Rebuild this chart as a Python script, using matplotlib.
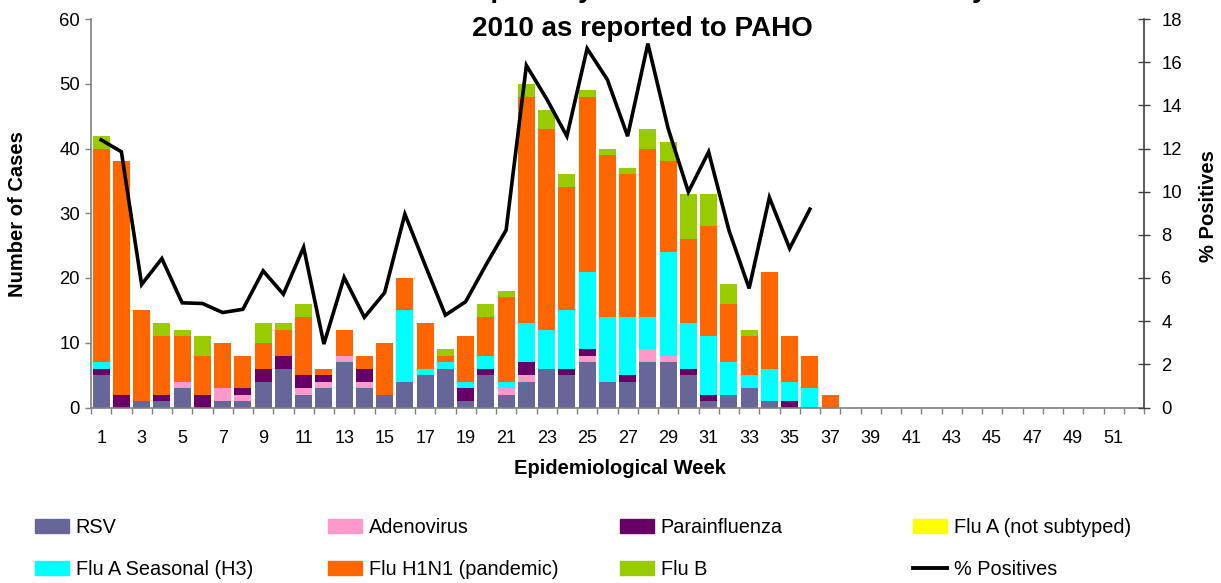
import numpy as np
import matplotlib
matplotlib.use("Agg")
import matplotlib.pyplot as plt
from matplotlib.patches import Patch
from matplotlib.lines import Line2D

plt.rcParams['font.family'] = ['Liberation Sans', 'DejaVu Sans']

weeks = list(range(1, 53))
tick_weeks = list(range(1, 53, 2))

def pad(vals):
    return list(vals) + [0] * (52 - len(vals))

rsv = pad([5, 0, 1, 1, 3, 0, 1, 1, 4, 6, 2, 3, 7, 3, 2, 4, 5, 6, 1, 5, 2, 4, 6, 5, 7, 4, 4, 7, 7, 5, 1, 2, 3, 1, 0, 0, 0])
adeno = pad([0, 0, 0, 0, 1, 0, 2, 1, 0, 0, 1, 1, 1, 1, 0, 0, 0, 0, 0, 0, 1, 1, 0, 0, 1, 0, 0, 2, 1, 0, 0, 0, 0, 0, 0, 0, 0])
parainf = pad([1, 2, 0, 1, 0, 2, 0, 1, 2, 2, 2, 1, 0, 2, 0, 0, 0, 0, 2, 1, 0, 2, 0, 1, 1, 0, 1, 0, 0, 1, 1, 0, 0, 0, 1, 0, 0])
flua_nst = pad([0] * 37)
flua_h3 = pad([1, 0, 0, 0, 0, 0, 0, 0, 0, 0, 0, 0, 0, 0, 0, 11, 1, 1, 1, 2, 1, 6, 6, 9, 12, 10, 9, 5, 16, 7, 9, 5, 2, 5, 3, 3, 0])
h1n1 = pad([33, 36, 14, 9, 7, 6, 7, 5, 4, 4, 9, 1, 4, 2, 8, 5, 7, 1, 7, 6, 13, 35, 31, 19, 27, 25, 22, 26, 14, 13, 17, 9, 6, 15, 7, 5, 2])
flub = pad([2, 0, 0, 2, 1, 3, 0, 0, 3, 1, 2, 0, 0, 0, 0, 0, 0, 1, 0, 2, 1, 2, 3, 2, 1, 1, 1, 3, 3, 7, 5, 3, 1, 0, 0, 0, 0])
pct_weeks = list(range(1, 37))
pct_pos = [12.4, 11.85, 5.7, 6.9, 4.85, 4.82, 4.4, 4.55, 6.33, 5.25, 7.42, 2.94,
           6.03, 4.18, 5.32, 8.96, 6.6, 4.28, 4.9, 6.6, 8.22, 15.85, 14.3, 12.57,
           16.63, 15.19, 12.57, 16.86, 12.93, 9.99, 11.84, 8.22, 5.52, 9.73, 7.37, 9.19]

series = [
    ("RSV", rsv, "#666699"),
    ("Adenovirus", adeno, "#FF99CC"),
    ("Parainfluenza", parainf, "#660066"),
    ("Flu A (not subtyped)", flua_nst, "#FFFF00"),
    ("Flu A Seasonal (H3)", flua_h3, "#00FFFF"),
    ("Flu H1N1 (pandemic)", h1n1, "#FF6600"),
    ("Flu B", flub, "#99CC00"),
]

W, H = 1221, 583
fig = plt.figure(figsize=(W / 100, H / 100), dpi=100)
ax = fig.add_axes([91 / W, 1 - 407.5 / H, (1144 - 91) / W, (407.5 - 19) / H])

bottom = np.zeros(52)
for name, vals, col in series:
    v = np.array(vals, dtype=float)
    ax.bar(weeks, v, width=0.84, bottom=bottom, color=col, linewidth=0, label=name, zorder=2)
    bottom += v

gray = "#808080"
ax.set_xlim(0.5, 52.5)
ax.set_ylim(0, 60)
ax.set_yticks(range(0, 61, 10))
ax.set_xticks(tick_weeks)
ax.set_xticklabels([str(w) for w in tick_weeks])
ax.set_xticks(np.arange(0.5, 53, 1), minor=True)
ax.tick_params(axis='x', which='major', length=0, pad=16, labelsize=13)
ax.tick_params(axis='x', which='minor', length=4, width=1, color=gray, direction='out')
ax.tick_params(axis='y', length=4.5, width=1, color=gray, direction='out', pad=3.5, labelsize=13.3)
for s in ['top', 'right']:
    ax.spines[s].set_visible(False)
for s in ['left', 'bottom']:
    ax.spines[s].set_color(gray)
    ax.spines[s].set_linewidth(1.2)

ax2 = ax.twinx()
ax2.set_ylim(0, 18)
ax2.set_yticks(range(0, 19, 2))
ax2.plot(pct_weeks, pct_pos, color='black', lw=2.6, solid_joinstyle='miter', zorder=3)
ax2.tick_params(axis='y', length=9, width=1, color='#404040', direction='inout', pad=8, labelsize=13.3)
for s in ['top', 'left', 'bottom']:
    ax2.spines[s].set_visible(False)
ax2.spines['right'].set_color('#404040')
ax2.spines['right'].set_linewidth(1.2)

# titles and labels (first title line is cut off at the top edge, as in the reference)
fig.text(640 / W, 1 + 3 / H, "Number of Respiratory Viruses Distribution Trend by",
         ha='center', va='baseline', fontsize=20, fontweight='bold')
fig.text(642 / W, 1 - 36 / H, "2010 as reported to PAHO",
         ha='center', va='baseline', fontsize=20, fontweight='bold')
fig.text(18 / W, 1 - 214 / H, "Number of Cases", rotation=90, ha='center', va='center',
         fontsize=14.5, fontweight='bold')
fig.text(1208 / W, 1 - 206 / H, "% Positives", rotation=90, ha='center', va='center',
         fontsize=14.5, fontweight='bold')
fig.text(620 / W, 1 - 468 / H, "Epidemiological Week", ha='center', va='center',
         fontsize=14.5, fontweight='bold')

# legend, four columns of two rows
colors = {n: c for n, _, c in series}
columns = [
    (35, [Patch(color=colors["RSV"]), Patch(color=colors["Flu A Seasonal (H3)"])],
     ["RSV", "Flu A Seasonal (H3)"]),
    (328, [Patch(color=colors["Adenovirus"]), Patch(color=colors["Flu H1N1 (pandemic)"])],
     ["Adenovirus", "Flu H1N1 (pandemic)"]),
    (620, [Patch(color=colors["Parainfluenza"]), Patch(color=colors["Flu B"])],
     ["Parainfluenza", "Flu B"]),
    (913, [Patch(color=colors["Flu A (not subtyped)"]), Line2D([], [], color='black', lw=2.8)],
     ["Flu A (not subtyped)", "% Positives"]),
]
for x0, handles, labels in columns:
    fig.legend(handles, labels, loc='upper left', bbox_to_anchor=(x0 / W, 1 - 518 / H),
               frameon=False, fontsize=14.3, handlelength=1.7, handleheight=0.68,
               handletextpad=0.35, labelspacing=1.15, borderpad=0, borderaxespad=0)

fig.savefig("out.png", dpi=100)
